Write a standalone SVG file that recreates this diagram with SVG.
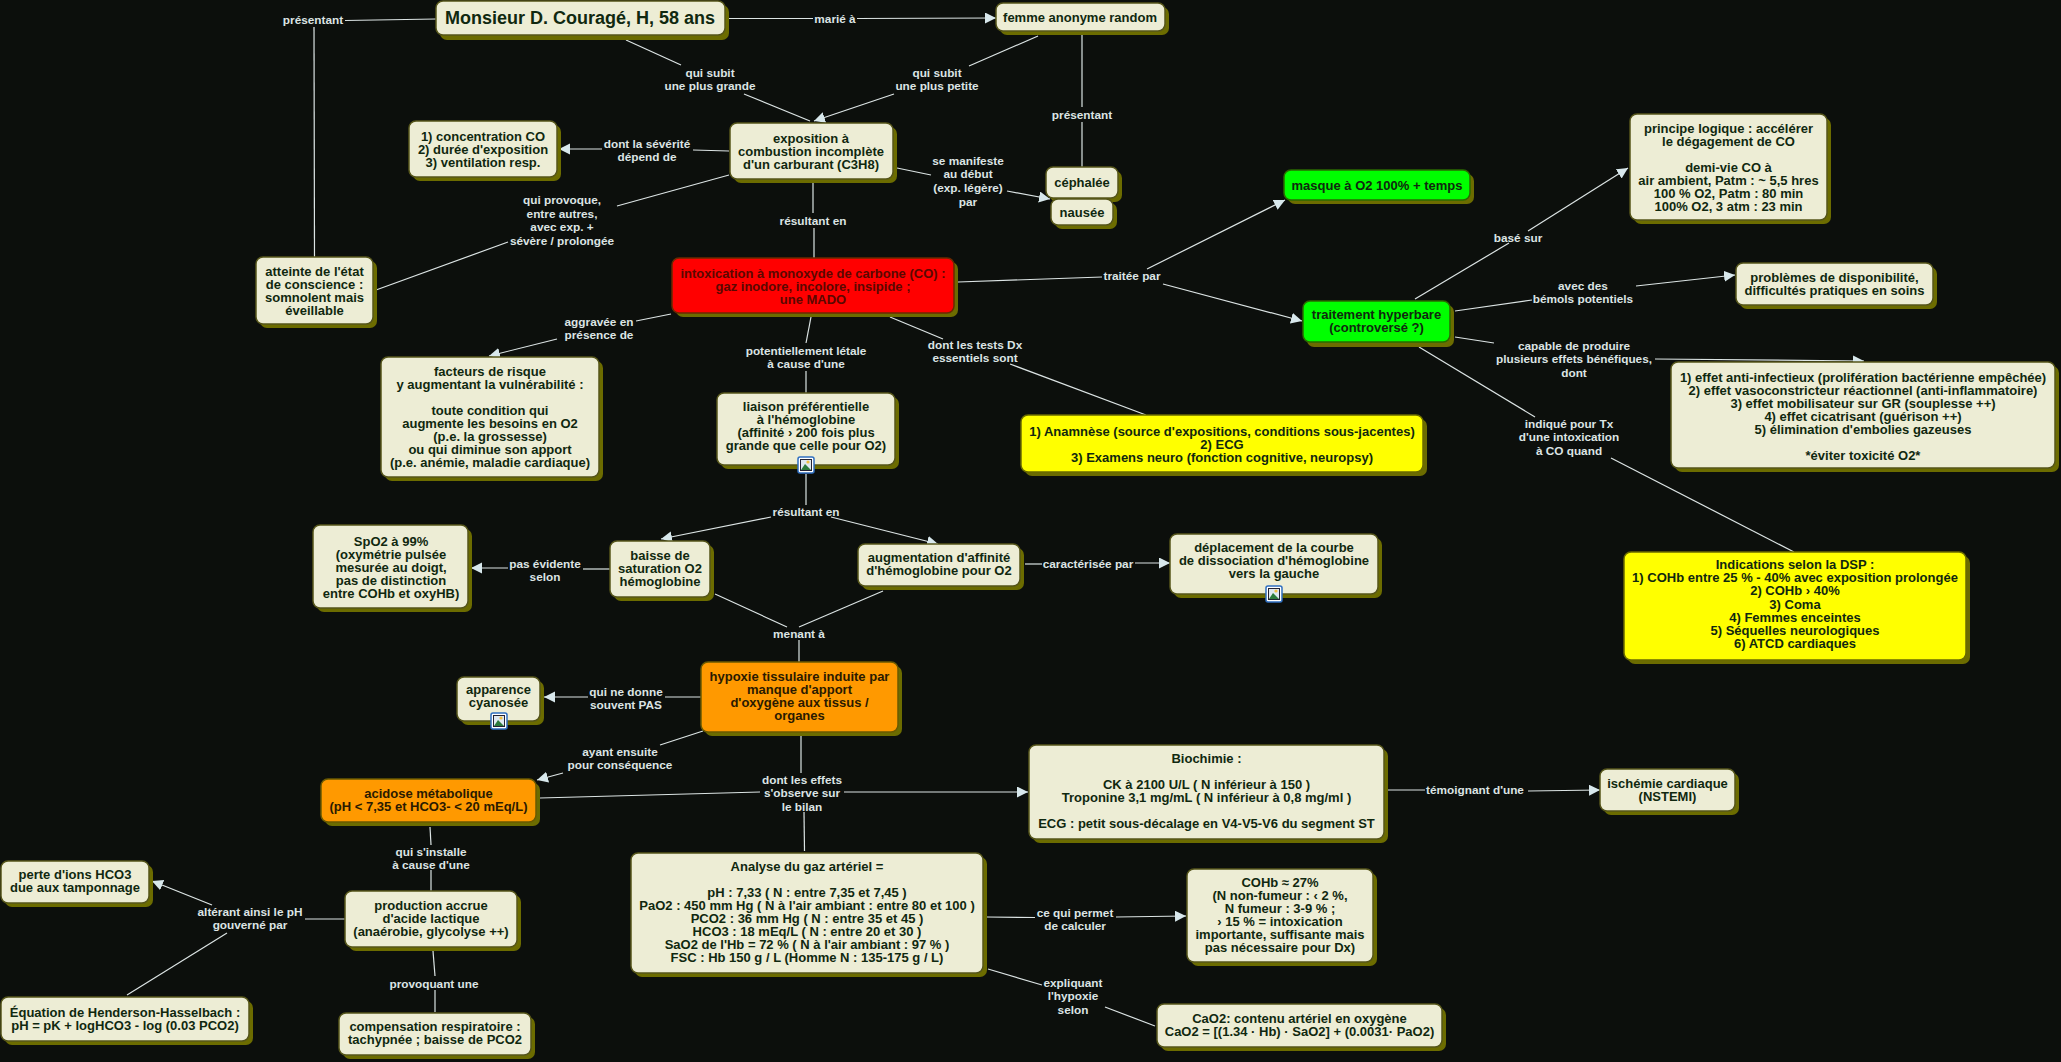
<svg xmlns="http://www.w3.org/2000/svg" width="2061" height="1062" viewBox="0 0 2061 1062">
<style>
text{font-family:"Liberation Sans",Arial,sans-serif;font-weight:700;font-size:13px;text-anchor:middle}
.n text{fill:#10280f}
.s{fill:#6c6c00}
.b{stroke:#55551a;stroke-width:1.5;fill:#ededd5}
.red{fill:#ff0000;stroke:#6a2a00}
.grn{fill:#00ff00;stroke:#2a6a00}
.yel{fill:#ffff00;stroke:#6a6a00}
.org{fill:#ff9900;stroke:#6a5a00}
#connectors line{stroke:#dce4e4;stroke-width:1.2;fill:none}
#labels text{fill:#dce4e4;font-size:11.8px}
.a{marker-end:url(#arr)}
</style>
<defs>
<marker id="arr" markerUnits="userSpaceOnUse" markerWidth="13" markerHeight="13" refX="11" refY="5.5" orient="auto"><path d="M0 0L11 5.5L0 11Z" fill="#d8e8ec"/></marker>
<g id="icon"><rect x="-8" y="-8" width="16" height="16" rx="2" fill="#fff" stroke="#2f6fc0" stroke-width="1.5"/><rect x="-5.500" y="-5.500" width="11" height="11" fill="#dfe8f0" stroke="#223"/><path d="M-5 5L-1 -1L5 5Z" fill="#2c7a3c"/><circle cx="2" cy="-3" r="1.6" fill="#f0c040"/></g>
</defs>
<rect width="2061" height="1062" fill="#0c0f0c"/>
<g id="connectors">
<line x1="345" y1="20.5" x2="436" y2="19"/><line x1="314" y1="27" x2="314.5" y2="257"/>
<line x1="729" y1="18.5" x2="813" y2="18.5"/><line class="a" x1="857" y1="18.500" x2="996" y2="18"/>
<line x1="626" y1="40" x2="681" y2="65"/><line x1="744" y1="94" x2="810" y2="121"/>
<line x1="1038" y1="36" x2="969" y2="66"/><line class="a" x1="894" y1="94" x2="814" y2="121"/>
<line x1="1082" y1="31" x2="1082" y2="107"/><line x1="1082" y1="122" x2="1082" y2="167"/>
<line x1="729" y1="151" x2="693" y2="150"/><line class="a" x1="602" y1="149" x2="559" y2="149"/>
<line x1="729" y1="175" x2="617" y2="206"/><line x1="508" y1="242" x2="376" y2="290"/>
<line x1="813" y1="183" x2="813" y2="213"/><line x1="814" y1="228" x2="814" y2="258"/>
<line x1="897" y1="168" x2="931" y2="175"/><line class="a" x1="1007" y1="191" x2="1050" y2="199"/>
<line x1="958" y1="282" x2="1102" y2="277"/><line class="a" x1="1163" y1="284" x2="1302" y2="321"/><line class="a" x1="1147" y1="269" x2="1285" y2="200"/>
<line x1="671" y1="314" x2="636" y2="321"/><line class="a" x1="557" y1="339" x2="489" y2="356"/>
<line x1="811" y1="317" x2="806" y2="343"/><line x1="806" y1="371" x2="806" y2="393"/>
<line x1="890" y1="317" x2="943" y2="339"/><line x1="1010" y1="364" x2="1146" y2="415"/>
<line x1="806" y1="474" x2="806" y2="505"/><line class="a" x1="771" y1="517" x2="661" y2="539"/><line class="a" x1="831" y1="517" x2="938" y2="544"/>
<line x1="715" y1="594" x2="787" y2="627"/><line x1="883" y1="591" x2="799" y2="627"/><line x1="799" y1="640" x2="799" y2="662"/>
<line x1="610" y1="569" x2="583" y2="569"/><line class="a" x1="508" y1="568" x2="471" y2="568"/>
<line x1="1025" y1="564" x2="1042" y2="564"/><line class="a" x1="1135" y1="563" x2="1170" y2="563"/>
<line x1="701" y1="697" x2="665" y2="697"/><line class="a" x1="588" y1="697" x2="544" y2="697"/>
<line x1="703" y1="731" x2="660" y2="745"/><line class="a" x1="563" y1="773" x2="537" y2="780"/>
<line x1="801" y1="736" x2="801" y2="773"/><line x1="540" y1="798" x2="760" y2="792"/><line class="a" x1="844" y1="792" x2="1028" y2="792"/><line x1="804" y1="812" x2="804.500" y2="851"/>
<line x1="1385" y1="790" x2="1425" y2="790"/><line class="a" x1="1528" y1="791" x2="1600" y2="790"/>
<line x1="430" y1="827" x2="431" y2="845"/><line x1="431" y1="870" x2="431" y2="891"/>
<line x1="305" y1="919" x2="345" y2="919"/><line class="a" x1="212" y1="905" x2="152" y2="881"/><line x1="227" y1="933" x2="127" y2="995"/>
<line x1="433" y1="951" x2="435" y2="976"/><line x1="435" y1="990" x2="435" y2="1012"/>
<line x1="987" y1="917" x2="1035" y2="917.500"/><line class="a" x1="1116" y1="917" x2="1186" y2="916"/>
<line x1="988" y1="969" x2="1042" y2="985"/><line x1="1105" y1="1007" x2="1155" y2="1026"/>
<line x1="1415" y1="299" x2="1509" y2="243"/><line class="a" x1="1528" y1="231" x2="1628" y2="168"/>
<line x1="1455" y1="311" x2="1532" y2="300"/><line class="a" x1="1636" y1="286" x2="1735" y2="275"/>
<line x1="1455" y1="337" x2="1494" y2="343"/><line class="a" x1="1655" y1="359" x2="1864" y2="361"/>
<line x1="1419" y1="347" x2="1535" y2="417"/><line x1="1611" y1="458" x2="1794" y2="552"/>
</g>
<g id="labels">
<text x="313" y="23.5">présentant</text>
<text x="835" y="23">marié à</text>
<text x="710" y="76.5">qui subit<tspan x="710" dy="13.7">une plus grande</tspan></text>
<text x="937" y="76.5">qui subit<tspan x="937" dy="13.7">une plus petite</tspan></text>
<text x="1082" y="119">présentant</text>
<text x="647" y="147.5">dont la sévérité<tspan x="647" dy="13.7">dépend de</tspan></text>
<text x="562" y="204">qui provoque,<tspan x="562" dy="13.7">entre autres,</tspan><tspan x="562" dy="13.7">avec exp. +</tspan><tspan x="562" dy="13.7">sévère / prolongée</tspan></text>
<text x="813" y="224.5">résultant en</text>
<text x="968" y="164.5">se manifeste<tspan x="968" dy="13.7">au début</tspan><tspan x="968" dy="13.7">(exp. légère)</tspan><tspan x="968" dy="13.7">par</tspan></text>
<text x="1132" y="279.5">traitée par</text>
<text x="599" y="325.5">aggravée en<tspan x="599" dy="13.7">présence de</tspan></text>
<text x="806" y="354.5">potentiellement létale<tspan x="806" dy="13.7">à cause d'une</tspan></text>
<text x="975" y="348.5">dont les tests Dx<tspan x="975" dy="13.7">essentiels sont</tspan></text>
<text x="806" y="515.5">résultant en</text>
<text x="799" y="637.5">menant à</text>
<text x="545" y="567.5">pas évidente<tspan x="545" dy="13.7">selon</tspan></text>
<text x="1088" y="567.5">caractérisée par</text>
<text x="626" y="695.5">qui ne donne<tspan x="626" dy="13.7">souvent PAS</tspan></text>
<text x="620" y="755.5">ayant ensuite<tspan x="620" dy="13.7">pour conséquence</tspan></text>
<text x="802" y="783.5">dont les effets<tspan x="802" dy="13.7">s'observe sur</tspan><tspan x="802" dy="13.7">le bilan</tspan></text>
<text x="1475" y="794">témoignant d'une</text>
<text x="431" y="855.5">qui s'installe<tspan x="431" dy="13.7">à cause d'une</tspan></text>
<text x="250" y="915.5">altérant ainsi le pH<tspan x="250" dy="13.7">gouverné par</tspan></text>
<text x="434" y="987.5">provoquant une</text>
<text x="1075" y="916.5">ce qui permet<tspan x="1075" dy="13.7">de calculer</tspan></text>
<text x="1073" y="986.5">expliquant<tspan x="1073" dy="13.7">l'hypoxie</tspan><tspan x="1073" dy="13.7">selon</tspan></text>
<text x="1518" y="241.5">basé sur</text>
<text x="1583" y="289.5">avec des<tspan x="1583" dy="13.7">bémols potentiels</tspan></text>
<text x="1574" y="349.5">capable de produire<tspan x="1574" dy="13.7">plusieurs effets bénéfiques,</tspan><tspan x="1574" dy="13.7">dont</tspan></text>
<text x="1569" y="427.5">indiqué pour Tx<tspan x="1569" dy="13.7">d'une intoxication</tspan><tspan x="1569" dy="13.7">à CO quand</tspan></text>
</g>
<g class="n">
<g id="n-monsieur"><rect class="s" x="440" y="5" width="289" height="35" rx="7"/><rect class="b" x="436" y="1" width="289" height="34" rx="7"/><text x="580" y="24" style="font-size:18px">Monsieur D. Couragé, H, 58 ans</text></g>
<g id="n-femme"><rect class="s" x="1000" y="7" width="169" height="28" rx="7"/><rect class="b" x="996" y="3" width="169" height="28" rx="7"/><text x="1080" y="21.500">femme anonyme random</text></g>
<g id="n-exposition"><rect class="s" x="734" y="127" width="163" height="56" rx="7"/><rect class="b" x="730" y="123" width="163" height="56" rx="7"/><text x="811" y="142.500">exposition à<tspan x="811" dy="13">combustion incomplète</tspan><tspan x="811" dy="13">d'un carburant (C3H8)</tspan></text></g>
<g id="n-concentration"><rect class="s" x="413" y="125" width="148" height="56" rx="7"/><rect class="b" x="409" y="121" width="148" height="56" rx="7"/><text x="483" y="140.500">1) concentration CO<tspan x="483" dy="13">2) durée d'exposition</tspan><tspan x="483" dy="13">3) ventilation resp.</tspan></text></g>
<g id="n-atteinte"><rect class="s" x="260" y="261" width="117" height="67" rx="7"/><rect class="b" x="256" y="257" width="117" height="67" rx="7"/><text x="314.500" y="276">atteinte de l'état<tspan x="314.500" dy="13">de conscience :</tspan><tspan x="314.500" dy="13">somnolent mais</tspan><tspan x="314.500" dy="13">éveillable</tspan></text></g>
<g id="n-intox"><rect class="s" x="676" y="262" width="282" height="55" rx="7"/><rect class="b red" x="672" y="258" width="282" height="55" rx="7"/><text x="813" y="277.500" style="fill:#5a0800">intoxication à monoxyde de carbone (CO) :<tspan x="813" dy="13">gaz inodore, incolore, insipide ;</tspan><tspan x="813" dy="13">une MADO</tspan></text></g>
<g id="n-cephalee"><rect class="s" x="1050" y="171" width="72" height="31" rx="7"/><rect class="b" x="1046" y="167" width="72" height="31" rx="7"/><text x="1082" y="186.500">céphalée</text></g>
<g id="n-nausee"><rect class="s" x="1055" y="203" width="62" height="26" rx="7"/><rect class="b" x="1051" y="199" width="62" height="26" rx="7"/><text x="1082" y="216.500">nausée</text></g>
<g id="n-masque"><rect class="s" x="1288" y="174" width="186" height="30" rx="7"/><rect class="b grn" x="1284" y="170" width="186" height="30" rx="7"/><text x="1377" y="190">masque à O2 100% + temps</text></g>
<g id="n-hyperbare"><rect class="s" x="1307" y="305" width="147" height="42" rx="7"/><rect class="b grn" x="1303" y="301" width="147" height="41" rx="7"/><text x="1376.500" y="319">traitement hyperbare<tspan x="1376.500" dy="13">(controversé ?)</tspan></text></g>
<g id="n-principe"><rect class="s" x="1634" y="118" width="197" height="106" rx="7"/><rect class="b" x="1630" y="114" width="197" height="106" rx="7"/><text x="1728.500" y="132.500">principe logique : accélérer<tspan x="1728.500" dy="13">le dégagement de CO</tspan><tspan x="1728.500" dy="26">demi-vie CO à</tspan><tspan x="1728.500" dy="13">air ambient, Patm : ~ 5,5 hres</tspan><tspan x="1728.500" dy="13">100 % O2, Patm : 80 min</tspan><tspan x="1728.500" dy="13">100% O2, 3 atm : 23 min</tspan></text></g>
<g id="n-problemes"><rect class="s" x="1740" y="267" width="197" height="42" rx="7"/><rect class="b" x="1736" y="263" width="197" height="42" rx="7"/><text x="1834.500" y="282">problèmes de disponibilité,<tspan x="1834.500" dy="13">difficultés pratiques en soins</tspan></text></g>
<g id="n-effets"><rect class="s" x="1675" y="366" width="384" height="106" rx="7"/><rect class="b" x="1671" y="362" width="384" height="106" rx="7"/><text x="1863" y="381.500">1) effet anti-infectieux (prolifération bactérienne empêchée)<tspan x="1863" dy="13">2) effet vasoconstricteur réactionnel (anti-inflammatoire)</tspan><tspan x="1863" dy="13">3) effet mobilisateur sur GR (souplesse ++)</tspan><tspan x="1863" dy="13">4) effet cicatrisant (guérison ++)</tspan><tspan x="1863" dy="13">5) élimination d'embolies gazeuses</tspan><tspan x="1863" dy="26">*éviter toxicité O2*</tspan></text></g>
<g id="n-indications"><rect class="s" x="1628" y="556" width="342" height="108" rx="7"/><rect class="b yel" x="1624" y="552" width="342" height="108" rx="7"/><text x="1795" y="569">Indications selon la DSP :<tspan x="1795" dy="13.200">1) COHb entre 25 % - 40% avec exposition prolongée</tspan><tspan x="1795" dy="13.200">2) COHb › 40%</tspan><tspan x="1795" dy="13.200">3) Coma</tspan><tspan x="1795" dy="13.200">4) Femmes enceintes</tspan><tspan x="1795" dy="13.200">5) Séquelles neurologiques</tspan><tspan x="1795" dy="13.200">6) ATCD cardiaques</tspan></text></g>
<g id="n-anamnese"><rect class="s" x="1025" y="419" width="402" height="57" rx="7"/><rect class="b yel" x="1021" y="415" width="402" height="57" rx="7"/><text x="1222" y="435.500">1) Anamnèse (source d'expositions, conditions sous-jacentes)<tspan x="1222" dy="13">2) ECG</tspan><tspan x="1222" dy="13">3) Examens neuro (fonction cognitive, neuropsy)</tspan></text></g>
<g id="n-facteurs"><rect class="s" x="385" y="361" width="218" height="120" rx="7"/><rect class="b" x="381" y="357" width="218" height="120" rx="7"/><text x="490" y="376">facteurs de risque<tspan x="490" dy="13">y augmentant la vulnérabilité :</tspan><tspan x="490" dy="26">toute condition qui</tspan><tspan x="490" dy="13">augmente les besoins en O2</tspan><tspan x="490" dy="13">(p.e. la grossesse)</tspan><tspan x="490" dy="13">ou qui diminue son apport</tspan><tspan x="490" dy="13">(p.e. anémie, maladie cardiaque)</tspan></text></g>
<g id="n-liaison"><rect class="s" x="721" y="397" width="178" height="72" rx="7"/><rect class="b" x="717" y="393" width="178" height="72" rx="7"/><text x="806" y="410.500">liaison préférentielle<tspan x="806" dy="13">à l'hémoglobine</tspan><tspan x="806" dy="13">(affinité › 200 fois plus</tspan><tspan x="806" dy="13">grande que celle pour O2)</tspan></text><use href="#icon" x="806" y="465"/></g>
<g id="n-spo2"><rect class="s" x="317" y="529" width="155" height="83" rx="7"/><rect class="b" x="313" y="525" width="155" height="83" rx="7"/><text x="391" y="545.500">SpO2 à 99%<tspan x="391" dy="13">(oxymétrie pulsée</tspan><tspan x="391" dy="13">mesurée au doigt,</tspan><tspan x="391" dy="13">pas de distinction</tspan><tspan x="391" dy="13">entre COHb et oxyHB)</tspan></text></g>
<g id="n-baisse"><rect class="s" x="614" y="545" width="100" height="56" rx="7"/><rect class="b" x="610" y="541" width="100" height="56" rx="7"/><text x="660" y="559.500">baisse de<tspan x="660" dy="13">saturation O2</tspan><tspan x="660" dy="13">hémoglobine</tspan></text></g>
<g id="n-augmentation"><rect class="s" x="862" y="548" width="162" height="42" rx="7"/><rect class="b" x="858" y="544" width="162" height="42" rx="7"/><text x="939" y="561.500">augmentation d'affinité<tspan x="939" dy="13">d'hémoglobine pour O2</tspan></text></g>
<g id="n-deplacement"><rect class="s" x="1174" y="538" width="208" height="60" rx="7"/><rect class="b" x="1170" y="534" width="208" height="60" rx="7"/><text x="1274" y="551.500">déplacement de la courbe<tspan x="1274" dy="13">de dissociation d'hémoglobine</tspan><tspan x="1274" dy="13">vers la gauche</tspan></text><use href="#icon" x="1274" y="594"/></g>
<g id="n-hypoxie"><rect class="s" x="705" y="666" width="197" height="70" rx="7"/><rect class="b org" x="701" y="662" width="197" height="70" rx="7"/><text x="799.500" y="680.500" style="fill:#2a1a00">hypoxie tissulaire induite par<tspan x="799.500" dy="13">manque d'apport</tspan><tspan x="799.500" dy="13">d'oxygène aux tissus /</tspan><tspan x="799.500" dy="13">organes</tspan></text></g>
<g id="n-apparence"><rect class="s" x="461" y="681" width="83" height="44" rx="7"/><rect class="b" x="457" y="677" width="83" height="44" rx="7"/><text x="498.500" y="693.500">apparence<tspan x="498.500" dy="13">cyanosée</tspan></text><use href="#icon" x="499" y="721"/></g>
<g id="n-acidose"><rect class="s" x="325" y="783" width="215" height="43" rx="7"/><rect class="b org" x="321" y="779" width="215" height="43" rx="7"/><text x="428.500" y="797.500" style="fill:#2a1a00">acidose métabolique<tspan x="428.500" dy="13">(pH &lt; 7,35 et HCO3- &lt; 20 mEq/L)</tspan></text></g>
<g id="n-biochimie"><rect class="s" x="1033" y="749" width="355" height="94" rx="7"/><rect class="b" x="1029" y="745" width="355" height="94" rx="7"/><text x="1206.500" y="763">Biochimie :<tspan x="1206.500" dy="26">CK à 2100 U/L ( N inférieur à 150 )</tspan><tspan x="1206.500" dy="13">Troponine 3,1 mg/mL ( N inférieur à 0,8 mg/ml )</tspan><tspan x="1206.500" dy="26">ECG : petit sous-décalage en V4-V5-V6 du segment ST</tspan></text></g>
<g id="n-ischemie"><rect class="s" x="1604" y="773" width="135" height="42" rx="7"/><rect class="b" x="1600" y="769" width="135" height="42" rx="7"/><text x="1667.500" y="788">ischémie cardiaque<tspan x="1667.500" dy="13">(NSTEMI)</tspan></text></g>
<g id="n-analyse"><rect class="s" x="635" y="857" width="352" height="120" rx="7"/><rect class="b" x="631" y="853" width="352" height="120" rx="7"/><text x="807" y="871">Analyse du gaz artériel =<tspan x="807" dy="26">pH : 7,33 ( N : entre 7,35 et 7,45 )</tspan><tspan x="807" dy="13">PaO2 : 450 mm Hg ( N à l'air ambiant : entre 80 et 100 )</tspan><tspan x="807" dy="13">PCO2 : 36 mm Hg ( N : entre 35 et 45 )</tspan><tspan x="807" dy="13">HCO3 : 18 mEq/L ( N : entre 20 et 30 )</tspan><tspan x="807" dy="13">SaO2 de l'Hb = 72 % ( N à l'air ambiant : 97 % )</tspan><tspan x="807" dy="13">FSC : Hb 150 g / L (Homme N : 135-175 g / L)</tspan></text></g>
<g id="n-cohb"><rect class="s" x="1191" y="873" width="186" height="93" rx="7"/><rect class="b" x="1187" y="869" width="186" height="93" rx="7"/><text x="1280" y="886.500">COHb ≈ 27%<tspan x="1280" dy="13">(N non-fumeur : ‹ 2 %,</tspan><tspan x="1280" dy="13">N fumeur : 3-9 % ;</tspan><tspan x="1280" dy="13">› 15 % = intoxication</tspan><tspan x="1280" dy="13">importante, suffisante mais</tspan><tspan x="1280" dy="13">pas nécessaire pour Dx)</tspan></text></g>
<g id="n-cao2"><rect class="s" x="1161" y="1008" width="285" height="43" rx="7"/><rect class="b" x="1157" y="1004" width="285" height="43" rx="7"/><text x="1299.500" y="1022.500">CaO2: contenu artériel en oxygène<tspan x="1299.500" dy="13">CaO2 = [(1.34 · Hb) · SaO2] + (0.0031· PaO2)</tspan></text></g>
<g id="n-perte"><rect class="s" x="5" y="865" width="148" height="42" rx="7"/><rect class="b" x="1" y="861" width="148" height="42" rx="7"/><text x="75" y="878.500">perte d'ions HCO3<tspan x="75" dy="13">due aux tamponnage</tspan></text></g>
<g id="n-production"><rect class="s" x="349" y="895" width="172" height="56" rx="7"/><rect class="b" x="345" y="891" width="172" height="56" rx="7"/><text x="431" y="909.500">production accrue<tspan x="431" dy="13">d'acide lactique</tspan><tspan x="431" dy="13">(anaérobie, glycolyse ++)</tspan></text></g>
<g id="n-equation"><rect class="s" x="5" y="1001" width="248" height="44" rx="7"/><rect class="b" x="1" y="997" width="248" height="44" rx="7"/><text x="125" y="1016.500">Équation de Henderson-Hasselbach :<tspan x="125" dy="13">pH = pK + logHCO3 - log (0.03 PCO2)</tspan></text></g>
<g id="n-compensation"><rect class="s" x="343" y="1017" width="192" height="42" rx="7"/><rect class="b" x="339" y="1013" width="192" height="42" rx="7"/><text x="435" y="1030.500">compensation respiratoire :<tspan x="435" dy="13">tachypnée ; baisse de PCO2</tspan></text></g>
</g>
</svg>
